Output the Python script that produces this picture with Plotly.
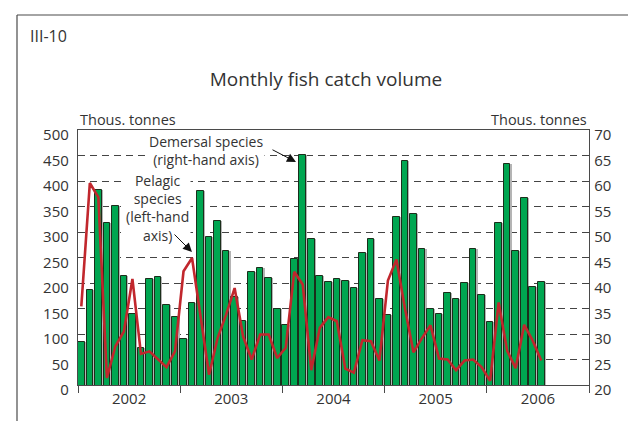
"""Monthly fish catch volume: demersal bars (right axis) and pelagic line (left axis)."""
import plotly.graph_objects as go

# Years shown on the x axis (one slot of 12 months each)
YEARS = ["2002", "2003", "2004", "2005", "2006"]

# Demersal species, thous. tonnes (right-hand axis), Jan 2002 - Jul 2006
DEMERSAL = [
    28.5, 38.6, 58.2, 51.7, 55.1, 41.3, 34.0, 27.3, 40.7, 41.2, 35.6, 33.3,
    29.0, 36.0, 58.1, 49.1, 52.1, 46.2, 37.2, 32.5, 42.2, 42.9, 40.9, 35.0,
    31.7, 44.8, 65.1, 48.6, 41.4, 40.1, 40.8, 40.4, 39.1, 45.8, 48.7, 36.9,
    33.7, 52.9, 63.9, 53.6, 46.6, 34.9, 34.0, 38.1, 36.8, 40.0, 46.6, 37.6,
    32.3, 51.7, 63.3, 46.3, 56.7, 39.3, 40.1,
]

# Pelagic species, thous. tonnes (left-hand axis)
PELAGIC = [
    154, 396, 368, 14, 76, 105, 208, 61, 66, 50, 35, 66,
    223, 249, 130, 20, 92, 138, 190, 95, 50, 99, 99, 53,
    73, 222, 197, 29, 112, 133, 125, 32, 24, 88, 86, 48,
    205, 246, 150, 64, 92, 117, 52, 50, 29, 48, 50, 35,
    8, 162, 67, 33, 118, 87, 48,
]

COLOR_BAR = "#00a651"
COLOR_BAR_EDGE = "#1b2e1b"
COLOR_SHADOW = "#b4b4b4"
COLOR_LINE = "#c1272d"
COLOR_TEXT = "#333333"
COLOR_AXIS = "#4a4a4a"
FONT = "Open Sans"

# plot area in pixels (636 x 421 page)
W, H = 636, 421
L, R, T, B = 70, 581, 122, 377


def px_x(x):
    return (x - L) / (R - L)


def px_y(y):
    return (B - y) / (B - T)


month_pos = [i + 0.39 for i in range(len(DEMERSAL))]
shadow_pos = [i + 0.53 for i in range(len(DEMERSAL))]

fig = go.Figure()
# bars sit on the primary (right-hand) axis so the line on y2 is drawn above them
fig.add_trace(go.Bar(
    x=shadow_pos, y=DEMERSAL, width=0.78, yaxis="y",
    marker=dict(color=COLOR_SHADOW, line=dict(width=0)),
    hoverinfo="skip", showlegend=False,
))
fig.add_trace(go.Bar(
    x=month_pos, y=DEMERSAL, width=0.78, yaxis="y",
    marker=dict(color=COLOR_BAR, line=dict(color=COLOR_BAR_EDGE, width=1)),
    name="Demersal species", showlegend=False,
))
fig.add_trace(go.Scatter(
    x=month_pos, y=PELAGIC, mode="lines", yaxis="y2",
    line=dict(color=COLOR_LINE, width=2.6),
    name="Pelagic species", showlegend=False,
))

fig.update_layout(
    width=W, height=H,
    margin=dict(l=L, r=W - R, t=T, b=H - B),
    paper_bgcolor="white", plot_bgcolor="white",
    barmode="overlay", bargap=0,
    font=dict(family=FONT, size=14.5, color=COLOR_TEXT),
    xaxis=dict(
        range=[0, 60],
        tickvals=[6 + 12 * k for k in range(len(YEARS))],
        ticktext=YEARS, tickfont=dict(size=15),
        ticks="", showgrid=False, zeroline=False,
        showline=True, linecolor=COLOR_AXIS, linewidth=1.3, mirror=True,
        minor=dict(tickvals=[12 * k for k in range(len(YEARS) + 1)],
                   ticks="outside", ticklen=7, tickcolor=COLOR_AXIS, showgrid=False),
        ticklabelstandoff=0,
        fixedrange=True,
    ),
    yaxis=dict(
        range=[20, 70], dtick=5, side="right", ticks="", tickfont=dict(size=15),
        showgrid=True, gridcolor="#444444", gridwidth=1, griddash="7px,5px",
        zeroline=False, showline=True, linecolor=COLOR_AXIS, linewidth=1.3,
        ticklabelstandoff=1, ticklabelshift=5,
    ),
    yaxis2=dict(
        range=[0, 500], dtick=50, overlaying="y", side="left", ticks="",
        tickfont=dict(size=15),
        showgrid=False, zeroline=False, showline=True, linecolor=COLOR_AXIS,
        linewidth=1.3, ticklabelstandoff=5, ticklabelshift=5,
    ),
    title=dict(
        text="Monthly fish catch volume",
        x=px_x(318), xref="paper", xanchor="center",
        y=1 - 71 / H, yanchor="middle",
        font=dict(family=FONT, size=19, color=COLOR_TEXT),
    ),
)

annotations = [
    dict(text="III-10", x=px_x(20), y=px_y(28), xanchor="left", yanchor="middle",
         showarrow=False, font=dict(size=16)),
    dict(text="Thous. tonnes", x=0, y=px_y(112), xanchor="left", yanchor="middle",
         showarrow=False),
    dict(text="Thous. tonnes", x=1, y=px_y(112), xanchor="right", yanchor="middle",
         showarrow=False),
    dict(text="Demersal species<br>(right-hand axis)", x=px_x(198), y=px_y(142.5),
         xanchor="center", yanchor="middle", showarrow=False, font=dict(size=14),
         bgcolor="white"),
    dict(text="Pelagic<br>species<br>(left-hand<br>axis)", x=px_x(149), y=px_y(200),
         xanchor="center", yanchor="middle", showarrow=False, font=dict(size=14),
         bgcolor="white"),
    # arrows: head at (x, y), tail offset in pixels
    dict(x=px_x(288), y=px_y(154), ax=263 - 288, ay=141 - 154,
         text="", showarrow=True, arrowhead=2, arrowsize=1.8, arrowwidth=1,
         arrowcolor="#111111"),
    dict(x=px_x(184), y=px_y(244), ax=165 - 184, ay=225 - 244,
         text="", showarrow=True, arrowhead=2, arrowsize=1.8, arrowwidth=1,
         arrowcolor="#111111"),
]
for a in annotations:
    a["xref"] = "paper"
    a["yref"] = "paper"
fig.update_layout(annotations=annotations)

# outer frame: left and top edges of the chart box
fig.add_shape(type="line", xref="paper", yref="paper",
              x0=px_x(9), x1=px_x(9), y0=px_y(7), y1=px_y(430),
              line=dict(color=COLOR_AXIS, width=1.2))
fig.add_shape(type="line", xref="paper", yref="paper",
              x0=px_x(9), x1=px_x(640), y0=px_y(7), y1=px_y(7),
              line=dict(color=COLOR_AXIS, width=1.2))

fig.write_html("out.html")
